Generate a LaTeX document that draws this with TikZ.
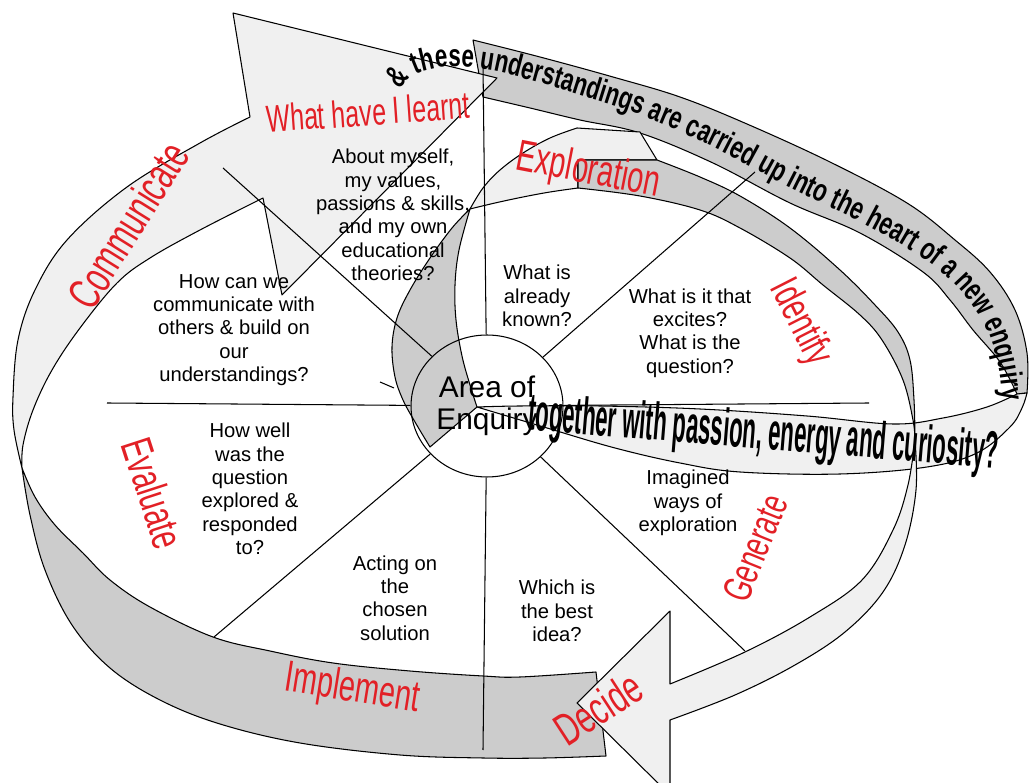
\documentclass[tikz,border=0pt]{standalone}
\usepackage{fontspec}
\setmainfont{Liberation Sans}
\newfontfamily\narrowfont[FakeStretch=0.66]{Liberation Sans}
\newfontfamily\ribbonfont[FakeStretch=0.71]{Liberation Sans}
\newfontfamily\squeezefont[FakeStretch=0.42]{Liberation Sans}
\usetikzlibrary{shapes.geometric, positioning, decorations.text}
\definecolor{bandlight}{RGB}{240,240,240}
\definecolor{banddark}{RGB}{204,204,204}
\definecolor{stagered}{RGB}{226,32,38}

\begin{document}
\begin{tikzpicture}[
    x=0.02cm, y=-0.02cm,
    lightband/.style={fill=bandlight, draw=black, line width=0.6pt, line join=round},
    darkband/.style={fill=banddark, draw=black, line width=0.6pt, line join=round},
    spoke/.style={draw=black, line width=0.6pt},
    question/.style={align=center, inner sep=0pt, font=\fontsize{11.5}{13.3}\selectfont},
    stage/.style={text=stagered, inner sep=0pt},
    hub/.style={ellipse, draw, line width=0.6pt, minimum width=3.04cm, minimum height=2.84cm, inner sep=0pt, align=center, font=\fontsize{17}{18}\selectfont}
]
    \useasboundingbox (0,0) rectangle (1029,783);
    \clip (0,0) rectangle (1029,783);

    % Carried-up ribbon
    \draw[darkband] (473,40)
        -- plot[smooth, tension=0.6] coordinates {(473,40) (540,57) (613,77) (680,97) (747,124) (830,162) (907,203) (955,240) (990,272) (1015,310) (1027,353) (1027,393)}
        -- (1017,394)
        -- plot[smooth, tension=0.6] coordinates {(1017,394) (1000,362) (973,330) (950,300) (923,272) (860,233) (790,203) (713,163) (640,133) (580,120) (530,108) (483,97)}
        -- cycle;
    \draw[lightband] (1017,394)
        -- plot[smooth, tension=0.6] coordinates {(1017,394) (987,407) (943,418) (893,424) (807,416) (700,409) (600,406) (520,406) (477,407)}
        -- plot[smooth, tension=0.6] coordinates {(477,407) (547,428) (615,448) (680,463) (740,472) (840,474) (927,467) (977,453) (1010,427) (1022,408) (1027,393)}
        -- cycle;

    % Outer wheel: Implement band and Communicate arrow
    \draw[darkband] (22,468)
        -- plot[smooth, tension=0.6] coordinates {(22,468) (30,515) (45,570) (72,625) (110,668) (160,700) (220,724) (300,743) (400,755) (483,758) (545,758) (606,756)}
        -- (596,672)
        -- plot[smooth, tension=0.6] coordinates {(596,672) (520,677) (483,676) (410,671) (333,663) (270,651) (213,637) (150,607) (110,580) (83,553) (55,525) (35,497) (22,468)}
        -- cycle;
    \draw[lightband] (250,117) -- (233,13) -- (497,78) -- (282,295) -- (263,198)
        -- plot[smooth, tension=0.6] coordinates {(263,198) (200,230) (150,258) (117,283) (80,328) (52,370) (33,410) (23,445) (22,468)}
        -- plot[smooth, tension=0.6] coordinates {(22,468) (14,430) (13,397) (18,340) (35,290) (67,240) (127,187) (200,143) (250,117)}
        -- cycle;

    % Inner wheel: Exploration to Decide
    \draw[darkband] (470,209)
        -- plot[smooth, tension=0.6] coordinates {(470,209) (452,228) (430,258) (410,290) (397,318) (392,347) (395,377) (403,400) (415,422) (430,447)}
        -- (477,407)
        -- plot[smooth, tension=0.6] coordinates {(477,407) (470,385) (462,356) (456,320) (455,285) (459,250) (470,209)}
        -- cycle;
    \draw[lightband] (470,209)
        -- plot[smooth, tension=0.6] coordinates {(470,209) (483,188) (500,170) (523,153) (550,138) (577,128)}
        -- (640,132) -- (657,160) -- (578,160) -- (578,188)
        -- plot[smooth, tension=0.6] coordinates {(578,188) (550,192) (523,197) (495,203) (470,209)}
        -- cycle;
    \draw[darkband] (578,160) -- (657,160)
        -- plot[smooth, tension=0.6] coordinates {(657,160) (700,177) (740,196) (790,228) (840,270) (875,305) (898,332) (910,360) (914,400) (915,440)}
        -- plot[smooth, tension=0.6] coordinates {(915,440) (913,420) (903,380) (882,340) (860,315) (823,285) (790,258) (740,228) (700,210) (640,196) (578,188)}
        -- cycle;
    \draw[lightband] (915,440)
        -- plot[smooth, tension=0.6] coordinates {(915,440) (916,490) (905,545) (883,592) (845,632) (795,665) (735,695) (670,720)}
        -- (670,795) -- (577,703) -- (670,611) -- (670,684)
        -- plot[smooth, tension=0.6] coordinates {(670,684) (745,652) (810,617) (862,580) (893,530) (908,485) (915,440)}
        -- cycle;

    % Hub and spokes
    \node[hub] (hub) at (487,406) {Area of\\Enquiry};
    \coordinate (spoke-n) at (483,65);
    \coordinate (spoke-ne) at (755,172);
    \coordinate (spoke-e) at (869,403);
    \coordinate (spoke-se) at (745,651);
    \coordinate (spoke-s) at (483,750);
    \coordinate (spoke-sw) at (214,637);
    \coordinate (spoke-w) at (107,403);
    \coordinate (spoke-nw) at (223,168);
    \foreach \s in {n, ne, e, se, s, sw, w, nw}
        \draw[spoke] (hub) -- (spoke-\s);
    \draw[spoke] (380,382) -- (394,388);

    % Stage labels
    \node[stage, font=\narrowfont\fontsize{21.6}{22}\selectfont, rotate=4] (learnt) at (368,112) {What have I learnt};
    \node[stage, font=\narrowfont\fontsize{26}{26}\selectfont, rotate=58] (communicate) at (128,225) {Communicate};
    \node[stage, font=\narrowfont\fontsize{25}{25}\selectfont, rotate=-11] (exploration) at (588,172) {Exploration};
    \node[stage, font=\narrowfont\fontsize{24}{24}\selectfont, rotate=-63] (identify) at (800,323) {Identify};
    \node[stage, font=\narrowfont\fontsize{23}{23}\selectfont, rotate=68] (generate) at (755,548) {Generate};
    \node[stage, font=\narrowfont\fontsize{26}{26}\selectfont, rotate=33] (decide) at (598,708) {Decide};
    \node[stage, font=\narrowfont\fontsize{25}{25}\selectfont, rotate=-9] (implement) at (352,690) {Implement};
    \node[stage, font=\narrowfont\fontsize{25}{25}\selectfont, rotate=-72] (evaluate) at (153,493) {Evaluate};

    % Questions
    \node[question] (about) at (393,215) {About myself,\\my values,\\passions \& skills,\\and my own\\educational\\theories?};
    \node[question] (share) at (234,330) {How can we\\communicate with\\others \& build on\\our\\understandings?};
    \node[question] (known) at (537,296) {What is\\already\\known?};
    \node[question] (excites) at (690,333) {What is it that\\excites?\\What is the\\question?};
    \node[question] (howwell) at (250,489) {How well\\was the\\question\\explored \&\\responded\\to?};
    \node[question] (acting) at (395,598) {Acting on\\the\\chosen\\solution};
    \node[question] (imagined) at (688,503) {Imagined\\ways of\\exploration};
    \node[question] (best) at (557,611) {Which is\\the best\\idea?};

    % Ribbon texts
    \path[decorate, decoration={text along path,
        text={|\ribbonfont\bfseries\fontsize{18}{18}\selectfont|{\&} these understandings are carried up into the heart of a new enquiry}}]
        plot[smooth, tension=0.6] coordinates {(400,90) (416,74) (447,67) (488,70) (530,80) (580,95) (640,115) (713,147) (790,188) (860,222) (923,258) (960,290) (985,325) (997,360) (1002,398) (1003,440)};
    \node[font=\squeezefont\bfseries\fontsize{30}{30}\selectfont, rotate=-4.7, anchor=base, inner sep=0pt] (passion) at (762,449) {together with passion, energy and curiosity?};
\end{tikzpicture}
\end{document}
